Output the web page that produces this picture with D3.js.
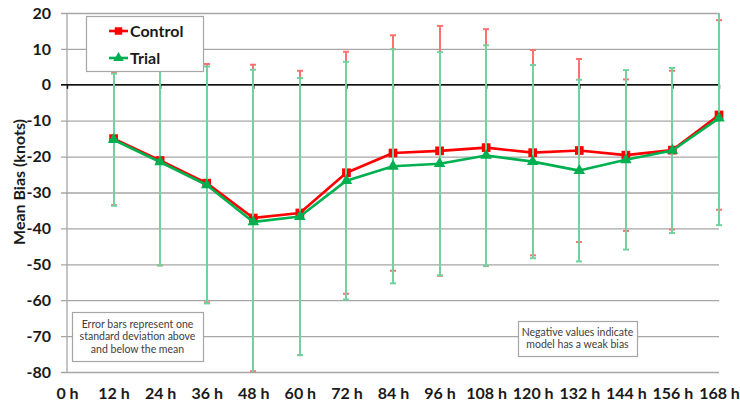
<!DOCTYPE html>
<html>
<head>
<meta charset="utf-8">
<script src="https://cdn.jsdelivr.net/npm/d3@7"></script>
<style>
  html, body { margin: 0; padding: 0; background: #fff; }
  svg { display: block; }
  text { font-family: Lato, "Open Sans", sans-serif; }
</style>
</head>
<body>
<svg id="chart" width="740" height="401"></svg>
<script>
// Forecast lead times (hours)
const leadTimes = [12, 24, 36, 48, 60, 72, 84, 96, 108, 120, 132, 144, 156, 168];
const xTicks = [0, 12, 24, 36, 48, 60, 72, 84, 96, 108, 120, 132, 144, 156, 168];
const yTicks = [20, 10, 0, -10, -20, -30, -40, -50, -60, -70, -80];

// Mean bias (knots) per lead time
const controlMean = [-15.0, -21.1, -27.4, -37.1, -35.7, -24.5, -19.0, -18.4, -17.5, -18.9, -18.3, -19.6, -18.2, -8.4];
const trialMean   = [-15.3, -21.5, -27.9, -38.2, -36.7, -26.7, -22.7, -22.0, -19.7, -21.4, -23.9, -20.9, -18.3, -9.3];

// One standard deviation for each lead time
const controlSD = [18.5, 29.2, 33.2, 42.7, 39.6, 33.7, 32.8, 34.8, 33.0, 28.6, 25.5, 21.1, 22.1, 26.4];
const trialSD   = [18.4, 28.8, 33.0, 42.4, 38.6, 33.1, 32.6, 31.1, 30.7, 26.9, 25.3, 25.0, 23.0, 29.8];

const svg = d3.select("#chart");
const plotLeft = 67, plotRight = 719, plotTop = 13, plotBottom = 372;

const x = d3.scaleLinear().domain([0, 168]).range([plotLeft, plotRight]);
const y = d3.scaleLinear().domain([-80, 20]).range([plotBottom, plotTop]);

// Horizontal gridlines with short outside ticks
svg.append("g")
  .attr("transform", `translate(${plotLeft},0)`)
  .call(d3.axisLeft(y).tickValues(yTicks).tickSize(-(plotRight - plotLeft)).tickSizeOuter(0).tickFormat(d => d))
  .call(g => g.select(".domain").remove())
  .call(g => g.selectAll(".tick line")
      .attr("x1", -6).attr("stroke", "#a6a6a6").attr("stroke-width", 1.3))
  .call(g => g.selectAll(".tick text")
      .attr("x", -16)
      .attr("font-size", 16).attr("font-weight", "bold").attr("fill", "#1a1a1a"));

// Vertical axis line
svg.append("line")
  .attr("x1", plotLeft).attr("x2", plotLeft).attr("y1", plotTop).attr("y2", plotBottom)
  .attr("stroke", "#a6a6a6").attr("stroke-width", 1.3);

// Zero line with category ticks
svg.append("g")
  .attr("transform", `translate(0,${y(0)})`)
  .call(d3.axisBottom(x).tickValues(xTicks).tickSize(4).tickSizeOuter(0).tickFormat(""))
  .call(g => g.select(".domain").attr("d", `M${plotLeft - 6},0H${plotRight}`).attr("stroke", "#111").attr("stroke-width", 1.6))
  .call(g => g.selectAll(".tick line").attr("stroke", "#111").attr("stroke-width", 1.4));

// Category labels along the bottom
svg.append("g")
  .attr("transform", `translate(0,${plotBottom})`)
  .call(d3.axisBottom(x).tickValues(xTicks).tickSize(0).tickFormat(d => d + " h"))
  .call(g => g.select(".domain").remove())
  .call(g => g.selectAll(".tick text")
      .attr("dy", 0).attr("y", 27)
      .attr("font-size", 16).attr("font-weight", "bold").attr("fill", "#1a1a1a"));

// Axis title
svg.append("text")
  .attr("transform", `translate(25,182) rotate(-90)`)
  .attr("text-anchor", "middle")
  .attr("font-size", 16).attr("font-weight", "bold").attr("fill", "#1a1a1a")
  .text("Mean Bias (knots)");

// Clip for error bars running past the plot area
svg.append("clipPath").attr("id", "plotClip")
  .append("rect").attr("x", plotLeft - 10).attr("y", plotTop).attr("width", plotRight - plotLeft + 20).attr("height", plotBottom - plotTop);

// Whiskers snapped to whole pixels so the two series overlap cleanly
function errorBars(means, sds, color, width) {
  const g = svg.append("g").attr("clip-path", "url(#plotClip)")
    .attr("stroke", color).attr("stroke-width", width);
  leadTimes.forEach((t, i) => {
    const hi = means[i] + sds[i], lo = means[i] - sds[i];
    const cx = Math.round(x(t));
    g.append("line").attr("x1", cx).attr("x2", cx).attr("y1", y(hi)).attr("y2", y(lo));
    g.append("line").attr("x1", cx - 3).attr("x2", cx + 3).attr("y1", y(hi)).attr("y2", y(hi));
    g.append("line").attr("x1", cx - 3).attr("x2", cx + 3).attr("y1", y(lo)).attr("y2", y(lo));
  });
}

function series(means, color, symbol) {
  const line = d3.line().x((d, i) => x(leadTimes[i])).y(d => y(d));
  svg.append("path").datum(means)
    .attr("d", line).attr("fill", "none")
    .attr("stroke", color).attr("stroke-width", 2.6).attr("stroke-linejoin", "round");
  svg.append("g").selectAll("path").data(means).join("path")
    .attr("transform", (d, i) => `translate(${x(leadTimes[i])},${y(d)})`)
    .attr("d", d3.symbol().type(symbol).size(symbol === d3.symbolSquare ? 76 : 58)())
    .attr("fill", color);
}

const red = "#ff0000", green = "#00b050";
const redBar = "#ff7070", greenBar = "#72d29e";

errorBars(controlMean, controlSD, redBar, 2);
series(controlMean, red, d3.symbolSquare);
errorBars(trialMean, trialSD, greenBar, 2);
series(trialMean, green, d3.symbolTriangle);

// Legend
const legend = svg.append("g");
legend.append("rect")
  .attr("x", 86.5).attr("y", 16.5).attr("width", 117).attr("height", 55)
  .attr("fill", "#fff").attr("stroke", "#a6a6a6").attr("stroke-width", 1.2);
const legendItems = [
  { name: "Control", color: red, symbol: d3.symbolSquare, ly: 31 },
  { name: "Trial", color: green, symbol: d3.symbolTriangle, ly: 58 }
];
legendItems.forEach(it => {
  legend.append("line")
    .attr("x1", 109).attr("x2", 128).attr("y1", it.ly).attr("y2", it.ly)
    .attr("stroke", it.color).attr("stroke-width", 2.6);
  legend.append("path")
    .attr("transform", `translate(118.5,${it.ly})`)
    .attr("d", d3.symbol().type(it.symbol).size(it.symbol === d3.symbolSquare ? 56 : 48)())
    .attr("fill", it.color);
  legend.append("text")
    .attr("x", 130).attr("y", it.ly).attr("dy", "0.35em")
    .attr("font-size", 16).attr("font-weight", "bold").attr("fill", "#1a1a1a")
    .text(it.name);
});

// Annotation boxes
function note(x0, y0, w, h, lines) {
  const g = svg.append("g");
  g.append("rect").attr("x", x0 + 0.5).attr("y", y0 + 0.5).attr("width", w).attr("height", h)
    .attr("fill", "#fff").attr("stroke", "#a6a6a6").attr("stroke-width", 1.2);
  const lh = 12.6;
  const start = y0 + h / 2 - (lines.length - 1) * lh / 2;
  lines.forEach((t, i) => {
    g.append("text")
      .attr("x", x0 + w / 2).attr("y", start + i * lh).attr("dy", "0.35em")
      .attr("text-anchor", "middle").attr("font-size", 10.5).attr("fill", "#404040")
      .text(t);
  });
}
note(72, 312, 131, 49, ["Error bars represent one", "standard deviation above", "and below the mean"]);
note(518, 321, 119, 35, ["Negative values indicate", "model has a weak bias"]);
</script>
</body>
</html>
